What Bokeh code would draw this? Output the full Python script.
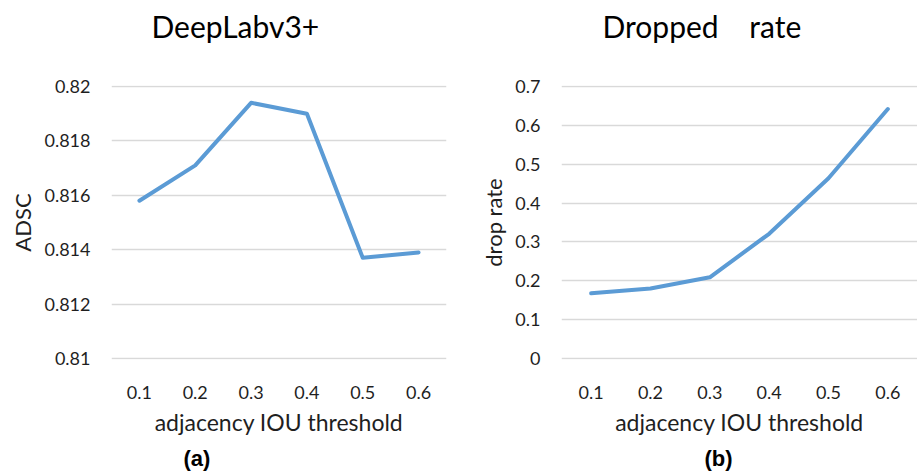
from bokeh.plotting import figure
from bokeh.models import Range1d, FixedTicker, Title, PrintfTickFormatter
from bokeh.layouts import row
from bokeh.embed import file_html
from bokeh.resources import INLINE

thresholds = [0.1, 0.2, 0.3, 0.4, 0.5, 0.6]
adsc = [0.8158, 0.8171, 0.8194, 0.8190, 0.8137, 0.8139]
drop_rate = [0.168, 0.180, 0.209, 0.321, 0.464, 0.642]
adsc_ticks = [0.81, 0.812, 0.814, 0.816, 0.818, 0.82]
drop_ticks = [0, 0.1, 0.2, 0.3, 0.4, 0.5, 0.6, 0.7]

TXT = "#1f1f1f"
FONT = "Lato"
NB = "\u00a0"
FRAME_H = 274


def make_fig(values, yticks, ylabel, title, caption, frame_w, x_end,
             min_left, min_right, title_off, cap_off):
    y0, y1 = yticks[0], yticks[-1]
    pad = (y1 - y0) / (FRAME_H - 2)
    p = figure(frame_width=frame_w, frame_height=FRAME_H,
               x_range=Range1d(0.05, x_end),
               y_range=Range1d(y0 - pad, y1 + pad),
               output_backend="svg", toolbar_location=None,
               min_border_left=min_left, min_border_right=min_right,
               min_border_top=85, min_border_bottom=117)
    # second (blank) line keeps the title well above the plot area
    p.title = Title(text=title + "\n" + NB, align="left", offset=title_off,
                    vertical_align="top",
                    text_font=FONT, text_font_size="30px",
                    text_font_style="normal", text_color="#000000",
                    standoff=8)
    p.line(thresholds, values, line_color="#5b9bd5", line_width=4,
           line_join="round", line_cap="round")
    p.outline_line_color = None
    p.background_fill_color = "white"
    p.border_fill_color = "white"
    p.xgrid.visible = False
    p.ygrid.grid_line_color = "#d9d9d9"
    p.ygrid.grid_line_width = 1.5
    p.yaxis.ticker = FixedTicker(ticks=yticks)
    p.xaxis.ticker = FixedTicker(ticks=thresholds)
    for ax in (p.xaxis[0], p.yaxis[0]):
        ax.formatter = PrintfTickFormatter(format="%g")
        ax.axis_line_color = None
        ax.major_tick_line_color = None
        ax.minor_tick_line_color = None
        ax.major_tick_in = 0
        ax.major_tick_out = 0
        ax.minor_tick_out = 0
        ax.major_label_text_font = FONT
        ax.major_label_text_font_size = "18px"
        ax.major_label_text_color = TXT
        ax.axis_label_text_font = FONT
        ax.axis_label_text_font_style = "normal"
        ax.axis_label_text_color = TXT
    p.yaxis.axis_label_text_font_size = "22px"
    p.xaxis.axis_label_text_font_size = "23px"
    p.yaxis.major_label_standoff = 21
    p.yaxis.axis_label = ylabel
    p.yaxis.axis_label_standoff = 5
    p.xaxis.major_label_standoff = 26
    p.xaxis.axis_label = "adjacency IOU threshold"
    p.xaxis.axis_label_standoff = 6
    p.add_layout(Title(text=caption, align="left", offset=cap_off,
                       text_font="Liberation Sans", text_font_size="22px",
                       text_font_style="bold", text_color="#000000",
                       standoff=10), "below")
    return p


p1 = make_fig(adsc, adsc_ticks, "ADSC", "DeepLabv3+", "(a)",
              335, 0.65, 111, 12, 40, 72)
p2 = make_fig(drop_rate, drop_ticks, "drop rate",
              "Dropped" + NB * 4 + "rate", "(b)",
              356, 0.65, 103, 0, 41, 143)

layout = row(p1, p2)
open("out.html", "w").write(file_html(layout, INLINE))
